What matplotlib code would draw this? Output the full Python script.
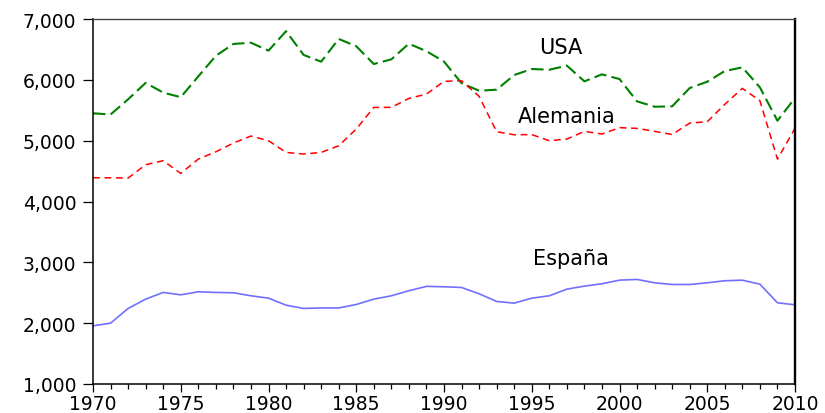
import matplotlib
matplotlib.use("Agg")
import matplotlib.pyplot as plt
from matplotlib.ticker import MultipleLocator, FuncFormatter

years = list(range(1970, 2011))

usa = [5450, 5430, 5680, 5950, 5790, 5715, 6057, 6395, 6590, 6610,
       6480, 6800, 6410, 6298, 6672, 6552, 6260, 6337, 6594, 6470,
       6300, 5945, 5821, 5838, 6079, 6178, 6166, 6234, 5975, 6090,
       6013, 5646, 5558, 5564, 5865, 5969, 6145, 6205, 5876, 5328,
       5701]

alemania = [4390, 4390, 4385, 4605, 4671, 4462, 4697, 4817, 4961, 5076,
            4999, 4807, 4780, 4807, 4916, 5191, 5547, 5547, 5695, 5766,
            5975, 5986, 5728, 5147, 5097, 5100, 4999, 5026, 5153, 5109,
            5214, 5202, 5153, 5100, 5289, 5311, 5597, 5860, 5657, 4697,
            5202]

espana = [1956, 2000, 2242, 2395, 2505, 2466, 2516, 2505, 2500, 2450,
          2411, 2296, 2242, 2250, 2250, 2307, 2395, 2450, 2533, 2605,
          2598, 2587, 2483, 2357, 2329, 2411, 2450, 2559, 2609, 2648,
          2707, 2719, 2664, 2636, 2636, 2664, 2697, 2707, 2641, 2335,
          2302]

labels = ["USA", "Alemania", "España"]
yticks = [1000, 2000, 3000, 4000, 5000, 6000, 7000]
xticks = [1970, 1975, 1980, 1985, 1990, 1995, 2000, 2005, 2010]

plt.rcParams['font.family'] = ['DejaVu Sans']

fig = plt.figure(figsize=(8.25, 4.14), dpi=100)
ax = fig.add_axes([93/825, 1 - 385/414, (795 - 93)/825, (385 - 20)/414])

ax.plot(years, usa, color='#008000', lw=1.5, dashes=(6, 2.5))
ax.plot(years, alemania, color='#ff0000', lw=1.1, dashes=(4.5, 3))
ax.plot(years, espana, color='#7070ff', lw=1.2)

ax.set_xlim(1970, 2010)
ax.set_ylim(1000, 7000)
ax.set_xticks(xticks)
ax.xaxis.set_minor_locator(MultipleLocator(1))
ax.set_yticks(yticks)
ax.yaxis.set_major_formatter(FuncFormatter(lambda v, p: f"{int(v):,}"))

ax.tick_params(axis='x', which='major', direction='out', length=5.5, width=0.9,
               labelsize=13.5, pad=1.5)
ax.tick_params(axis='x', which='minor', direction='out', length=3.6, width=0.9)
ax.tick_params(axis='y', which='major', direction='out', length=7, width=0.9,
               labelsize=13.5, pad=5)

for s in ['left', 'bottom']:
    ax.spines[s].set_linewidth(1.1)
    ax.spines[s].set_color('black')
ax.spines['top'].set_linewidth(1.0)
ax.spines['top'].set_color('#444444')
ax.spines['right'].set_linewidth(1.7)
ax.spines['right'].set_color('black')

ax.text(1996.68, 6441, labels[0], fontsize=15, ha='center', va='baseline')
ax.text(1997.0, 5311, labels[1], fontsize=15, ha='center', va='baseline')
ax.text(1997.24, 2970, labels[2], fontsize=15, ha='center', va='baseline')

fig.savefig("out.png", dpi=100)
